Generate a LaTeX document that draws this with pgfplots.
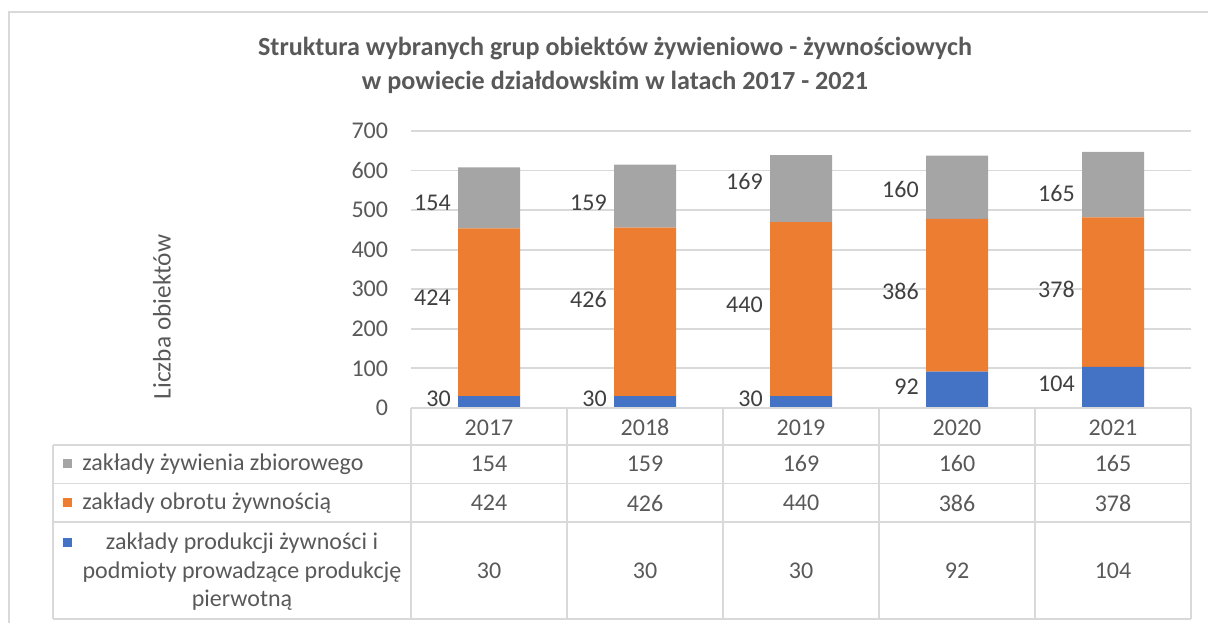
\documentclass[border=0pt]{standalone}
\usepackage{fontspec}
\setmainfont{Carlito}
\usepackage{pgfplots}
\pgfplotsset{compat=1.18}
\usepackage{pgfplotstable}
\definecolor{cgray}{HTML}{A5A5A5}
\definecolor{corange}{HTML}{ED7D31}
\definecolor{cblue}{HTML}{4472C4}
\definecolor{txt}{HTML}{595959}
\definecolor{lbl}{HTML}{404040}
\definecolor{gridc}{HTML}{D9D9D9}

\pgfplotstableread{
x blue orange gray lb lo lg
0 30 424 154 22 278 518
1 30 426 159 22 273 518
2 30 440 169 22 260 573
3 92 386 160 53 295 553
4 104 378 165 61 300 543
}\data

\newcommand{\tfont}{\fontsize{18}{21}\selectfont}

\begin{document}
\begin{tikzpicture}
\useasboundingbox (0,0) rectangle (906pt,467.25pt);
\clip (0,0) rectangle (906pt,467.25pt);

\begin{axis}[
  at={(308.25pt,161.25pt)}, anchor=south west,
  scale only axis, width=585pt, height=207.75pt,
  xmin=-0.5, xmax=4.5, ymin=0, ymax=700,
  ybar stacked, bar width=46.5pt,
  ytick={0,100,...,700},
  xtick={0,1,2,3,4},
  xticklabels={2017,2018,2019,2020,2021},
  ymajorgrids,
  grid style={gridc, line width=1.4pt},
  axis line style={draw=none},
  major tick length=0pt,
  tick label style={text=txt, font=\tfont},
  /pgf/number format/assume math mode=true,
  yticklabel style={anchor=east, inner sep=0pt, xshift=-17pt},
  xticklabel style={anchor=center, inner sep=0pt, yshift=-14.5pt},
]
\addplot[fill=cblue, draw=none] table[x=x, y=blue] {\data};
\addplot[fill=corange, draw=none] table[x=x, y=orange] {\data};
\addplot[fill=cgray, draw=none] table[x=x, y=gray] {\data};
\end{axis}

\begin{axis}[
  at={(308.25pt,161.25pt)}, anchor=south west,
  scale only axis, width=585pt, height=207.75pt,
  xmin=-0.5, xmax=4.5, ymin=0, ymax=700,
  hide axis, clip=false,
]
% data labels, left of the bars
\addplot[draw=none, nodes near coords, point meta=explicit symbolic,
  nodes near coords style={anchor=east, xshift=-28.5pt, text=lbl, font=\tfont, inner sep=0pt}]
  table[x=x, y=lb, meta=blue] {\data};
\addplot[draw=none, nodes near coords, point meta=explicit symbolic,
  nodes near coords style={anchor=east, xshift=-28.5pt, text=lbl, font=\tfont, inner sep=0pt}]
  table[x=x, y=lo, meta=orange] {\data};
\addplot[draw=none, nodes near coords, point meta=explicit symbolic,
  nodes near coords style={anchor=east, xshift=-28.5pt, text=lbl, font=\tfont, inner sep=0pt}]
  table[x=x, y=lg, meta=gray] {\data};
% data table values
\addplot[draw=none, nodes near coords, point meta=explicit symbolic,
  nodes near coords style={anchor=center, text=txt, font=\tfont}]
  table[x=x, y expr=-141.5, meta=gray] {\data};
\addplot[draw=none, nodes near coords, point meta=explicit symbolic,
  nodes near coords style={anchor=center, text=txt, font=\tfont}]
  table[x=x, y expr=-240.2, meta=orange] {\data};
\addplot[draw=none, nodes near coords, point meta=explicit symbolic,
  nodes near coords style={anchor=center, text=txt, font=\tfont}]
  table[x=x, y expr=-412, meta=blue] {\data};
\end{axis}

\begin{scope}[x=0.75pt, y=-0.75pt, yshift=467.25pt]
  % outer frame
  \draw[gridc, line width=1.5pt] (9,700) -- (9,12) -- (1300,12);
  % table grid
  \draw[gridc, line width=1.4pt]
    (411,408) -- (1191,408)
    (53,445) -- (1191,445)
    (53,483.5) -- (1191,483.5)
    (53,522) -- (1191,522)
    (53,619) -- (1191,619)
    (53,445) -- (53,619);
  \foreach \xx in {411,567,723,879,1035,1191} {
    \draw[gridc, line width=1.4pt] (\xx,408) -- (\xx,619);
  }
  % legend keys
  \fill[cgray] (63,459) rectangle (72,468);
  \fill[corange] (63,498) rectangle (72,507);
  \fill[cblue] (63,538) rectangle (72,547);
  % row texts
  \node[anchor=west, inner sep=0pt, text=txt, font=\tfont] at (82,464) {zakłady żywienia zbiorowego};
  \node[anchor=west, inner sep=0pt, text=txt, font=\tfont] at (82,503) {zakłady obrotu żywnością};
  \node[align=center, inner sep=0pt, text=txt, font=\fontsize{18}{21.4}\selectfont] at (242,572)
    {zakłady produkcji żywności i\\podmioty prowadzące produkcję\\pierwotną};
  % y label
  \node[rotate=90, inner sep=0pt, text=txt, font=\fontsize{19}{22}\selectfont] at (162,317) {Liczba obiektów};
  % title
  \node[align=center, inner sep=0pt, text=txt, font=\bfseries\fontsize{19.6}{25.5}\selectfont] at (615,65)
    {Struktura wybranych grup obiektów żywieniowo - żywnościowych\\w powiecie działdowskim w latach 2017 - 2021};
\end{scope}
\end{tikzpicture}
\end{document}
